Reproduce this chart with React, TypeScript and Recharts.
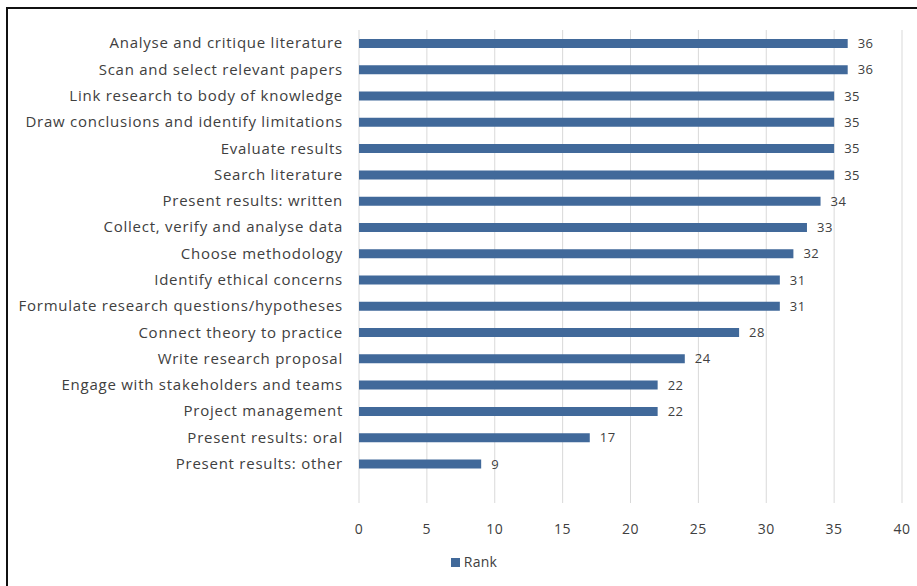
import { Bar, BarChart, CartesianGrid, LabelList, Legend, XAxis, YAxis } from "recharts";

const categories = [
  "Analyse and critique literature",
  "Scan and select relevant papers",
  "Link research to body of knowledge",
  "Draw conclusions and identify limitations",
  "Evaluate results",
  "Search literature",
  "Present results: written",
  "Collect, verify and analyse data",
  "Choose methodology",
  "Identify ethical concerns",
  "Formulate research questions/hypotheses",
  "Connect theory to practice",
  "Write research proposal",
  "Engage with stakeholders and teams",
  "Project management",
  "Present results: oral",
  "Present results: other",
  "",
];

const rank = [36, 36, 35, 35, 35, 35, 34, 33, 32, 31, 31, 28, 24, 22, 22, 17, 9, null];

const xTicks = [0, 5, 10, 15, 20, 25, 30, 35, 40];

const data = categories.map((name, i) => ({ name, rank: rank[i] }));

const FONT = "'Open Sans', sans-serif";
const TEXT = "#404040";

export default function App() {
  return (
    <div
      style={{
        position: "absolute",
        left: 0,
        top: 0,
        width: 917,
        height: 586,
        background: "#fff",
        fontFamily: FONT,
      }}
    >
      {/* frame: only the top and left edges show in the source */}
      <div
        style={{
          position: "absolute",
          left: 6,
          top: 7,
          width: 911,
          height: 579,
          borderTop: "2px solid #111",
          borderLeft: "2px solid #111",
          boxSizing: "border-box",
        }}
      />
      <BarChart
        width={917}
        height={586}
        data={data}
        layout="vertical"
        margin={{ top: 30, right: 15, bottom: 10, left: 0 }}
        barSize={9}
      >
        <CartesianGrid horizontal={false} stroke="#d9d9d9" />
        <XAxis
          type="number"
          domain={[0, 40]}
          ticks={xTicks}
          axisLine={false}
          tickLine={false}
          tickMargin={15}
          height={40}
          tick={{ fill: TEXT, fontSize: 14, fontFamily: FONT, letterSpacing: 0.5 }}
        />
        <YAxis
          type="category"
          dataKey="name"
          width={359}
          interval={0}
          axisLine={false}
          tickLine={false}
          tickMargin={10}
          tick={{ fill: TEXT, fontSize: 15, fontFamily: FONT, letterSpacing: 0.75 }}
        />
        <Legend
          verticalAlign="bottom"
          height={33}
          iconType="square"
          iconSize={9}
          wrapperStyle={{ left: 28, bottom: 3 }}
          formatter={(v: string) => (
            <span style={{ color: TEXT, fontSize: 14, fontFamily: FONT, letterSpacing: 0.3 }}>{v}</span>
          )}
        />
        <Bar dataKey="rank" name="Rank" fill="#41699A" isAnimationActive={false}>
          <LabelList
            dataKey="rank"
            position="right"
            offset={10}
            fill={TEXT}
            fontSize={13}
            fontFamily={FONT}
            letterSpacing={0.5}
          />
        </Bar>
      </BarChart>
    </div>
  );
}
